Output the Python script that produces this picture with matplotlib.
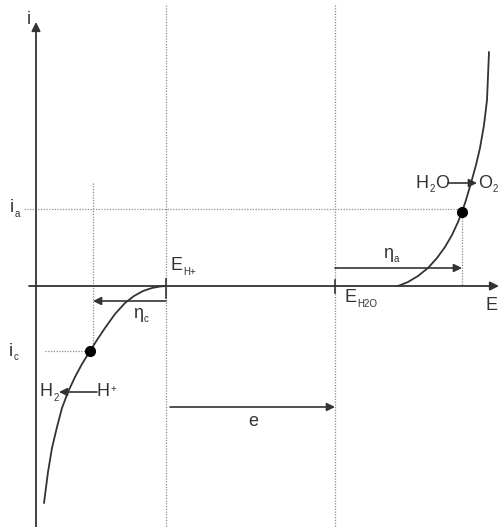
import matplotlib.pyplot as plt

plt.rcParams['font.family'] = ['Liberation Sans', 'DejaVu Sans']

# drawing grid: x to the right, y downward
axis_x = 36        # i axis
axis_y = 286       # E axis
e_h = 166          # E_H+
e_h2o = 335        # E_H2O
i_a = 209
i_c = 351

# cathodic branch (hydrogen evolution)
cath_x = [166, 160, 152, 143, 134, 125, 115, 105, 97, 90, 82, 75, 68, 62, 57, 52, 48, 44]
cath_y = [286, 286.5, 288, 291, 296, 303, 314, 328, 340, 351, 364, 377, 392, 408, 427, 448, 472, 503]
cath_pt = (90, 351)

# anodic branch (oxygen evolution)
anod_x = [398, 408, 418, 428, 437, 445, 452, 458, 462, 466, 471, 476, 480, 484, 487, 489]
anod_y = [286, 282, 276, 268, 258, 247, 235, 222, 212, 200, 183, 165, 148, 125, 100, 52]
anod_pt = (462, 212)

ink = '#333333'
dot = '#8a8a8a'
fs = 13
fs_sub = 7

fig = plt.figure(figsize=(4.99, 5.27), dpi=100)
ax = fig.add_axes([0, 0, 1, 1])
ax.set_xlim(0, 499)
ax.set_ylim(527, 0)
ax.axis('off')
renderer = fig.canvas.get_renderer()
inv = ax.transData.inverted()


def label(x, y, main, sub='', sup=''):
    t = ax.text(x, y, main, fontsize=fs, color=ink, ha='left', va='center')
    right = t.get_window_extent(renderer).transformed(inv).x1
    small = sub or sup
    if small:
        dy = 6 if sub else -3
        s = ax.text(right + 0.5, y + dy, small, fontsize=fs_sub, color=ink, ha='left', va='center')
        right = s.get_window_extent(renderer).transformed(inv).x1
    return right


dotted = dict(color=dot, lw=0.9, ls=(0, (1, 1.2)))

# guide lines
ax.plot([e_h, e_h], [5, 527], **dotted)
ax.plot([e_h2o, e_h2o], [5, 527], **dotted)
ax.plot([93, 93], [183, i_c - 4], **dotted)
ax.plot([24, anod_pt[0]], [i_a, i_a], **dotted)
ax.plot([anod_pt[0], anod_pt[0]], [anod_pt[1], axis_y], **dotted)
ax.plot([45, cath_pt[0]], [i_c, i_c], **dotted)

# axes
arrow = dict(arrowstyle='-|>', color=ink, lw=1.3, mutation_scale=13, shrinkA=0, shrinkB=0)
ax.annotate('', xy=(axis_x, 22), xytext=(axis_x, 527), arrowprops=arrow)
ax.annotate('', xy=(499, axis_y), xytext=(29, axis_y), arrowprops=arrow)
ax.plot([e_h, e_h], [279, 298], color=ink, lw=1.2)
ax.plot([e_h2o, e_h2o], [280, 293], color=ink, lw=1.2)

# polarisation curves
ax.plot(cath_x, cath_y, color=ink, lw=1.3, solid_capstyle='round')
ax.plot(anod_x, anod_y, color=ink, lw=1.3, solid_capstyle='round')
ax.plot(*cath_pt, 'o', color='black', ms=7)
ax.plot(*anod_pt, 'o', color='black', ms=7)

# overpotentials and span
small = dict(arrowstyle='-|>', color=ink, lw=1.2, mutation_scale=12, shrinkA=0, shrinkB=0)
ax.annotate('', xy=(93, 301), xytext=(e_h, 301), arrowprops=small)
ax.annotate('', xy=(anod_pt[0], 268), xytext=(e_h2o, 268), arrowprops=small)
ax.annotate('', xy=(e_h2o, 407), xytext=(170, 407), arrowprops=small)
ax.annotate('', xy=(59, 392), xytext=(97, 392), arrowprops=small)
ax.annotate('', xy=(477, 183), xytext=(448, 183), arrowprops=small)

ax.text(29, 19, 'i', fontsize=fs, color=ink, ha='center', va='center')
ax.text(492, 305, 'E', fontsize=fs, color=ink, ha='center', va='center')
ax.text(253, 422, 'e', fontsize=fs, color=ink, ha='center', va='center')
label(10, 208, 'i', sub='a')
label(9, 351, 'i', sub='c')
label(171, 266, 'E', sub='H+')
label(345, 298, 'E', sub='H2O')
label(133, 313, 'η', sub='c')
label(383, 253, 'η', sub='a')
label(40, 392, 'H', sub='2')
label(97, 392, 'H', sup='+')
x_h2 = label(416, 183, 'H', sub='2')
ax.text(x_h2 + 0.5, 183, 'O', fontsize=fs, color=ink, ha='left', va='center')
label(478, 183, 'O', sub='2')

fig.savefig('out.png', dpi=100)
